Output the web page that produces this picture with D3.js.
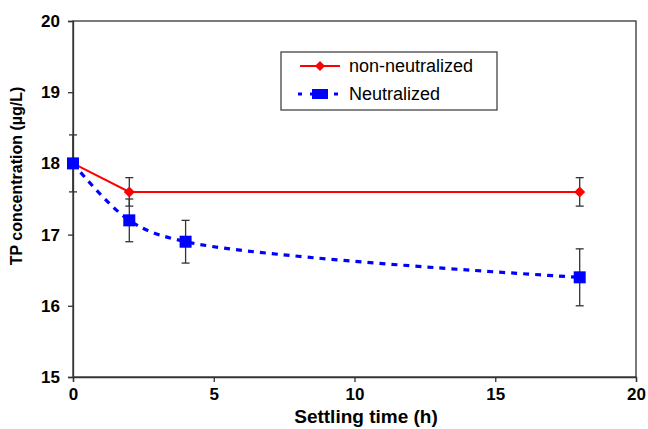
<!DOCTYPE html>
<html>
<head>
<meta charset="utf-8">
<script src="https://cdn.jsdelivr.net/npm/d3@7"></script>
<style>
  body { margin: 0; background: #fff; }
  text { font-family: "Liberation Sans", Arial, sans-serif; }
</style>
</head>
<body>
<svg id="chart" width="648" height="429"></svg>
<script>
// settling time (h)
const nonNeutTime = [0, 2, 18];
const nonNeutValue = [18.0, 17.6, 17.6];
const nonNeutErr = [0.4, 0.2, 0.2];

const neutTime = [0, 2, 4, 18];
const neutValue = [18.0, 17.2, 16.9, 16.4];
const neutErr = [0, 0.3, 0.3, 0.4];

const xTicks = [0, 5, 10, 15, 20];
const yTicks = [15, 16, 17, 18, 19, 20];

const svg = d3.select("#chart");
const margin = { left: 73, top: 21, right: 12, bottom: 52 };
const width = 648 - margin.left - margin.right;
const height = 429 - margin.top - margin.bottom;

const x = d3.scaleLinear().domain([0, 20]).range([0, width]);
const y = d3.scaleLinear().domain([15, 20]).range([height, 0]);

const g = svg.append("g").attr("transform", `translate(${margin.left},${margin.top})`);

// frame
g.append("rect")
  .attr("width", width).attr("height", height)
  .attr("fill", "none").attr("stroke", "#333").attr("stroke-width", 1.3);

const xAxis = g.append("g")
  .attr("transform", `translate(0,${height})`)
  .call(d3.axisBottom(x).tickValues(xTicks).tickFormat(d3.format("d")).tickSize(5).tickPadding(6));
const yAxis = g.append("g")
  .call(d3.axisLeft(y).tickValues(yTicks).tickFormat(d3.format("d")).tickSize(5).tickPadding(8));

[xAxis, yAxis].forEach(a => {
  a.select(".domain").attr("stroke", "#333").attr("stroke-width", 1.3);
  a.selectAll(".tick line").attr("stroke", "#333").attr("stroke-width", 1.3);
  a.selectAll(".tick text")
    .attr("fill", "#000")
    .style("font-size", "17px")
    .style("font-weight", "bold");
});

// axis titles
g.append("text")
  .attr("x", 366 - margin.left)
  .attr("y", height + 46)
  .attr("text-anchor", "middle")
  .style("font-size", "19px").style("font-weight", "bold")
  .text("Settling time (h)");

g.append("text")
  .attr("transform", `translate(-51,${176 - margin.top}) rotate(-90)`)
  .attr("text-anchor", "middle")
  .style("font-size", "16px").style("font-weight", "bold")
  .text("TP concentration (µg/L)");

const nonNeut = nonNeutTime.map((t, i) => ({ t, v: nonNeutValue[i], e: nonNeutErr[i] }));
const neut = neutTime.map((t, i) => ({ t, v: neutValue[i], e: neutErr[i] }));

// error bars
function errorBars(data) {
  const eb = g.append("g").attr("stroke", "#333").attr("stroke-width", 1.3);
  data.filter(d => d.e > 0).forEach(d => {
    const cx = x(d.t);
    eb.append("line").attr("x1", cx).attr("x2", cx).attr("y1", y(d.v + d.e)).attr("y2", y(d.v - d.e));
    [d.v + d.e, d.v - d.e].forEach(v => {
      eb.append("line").attr("x1", cx - 4).attr("x2", cx + 4).attr("y1", y(v)).attr("y2", y(v));
    });
  });
}
errorBars(nonNeut);
errorBars(neut);

// lines
g.append("path")
  .datum(nonNeut)
  .attr("fill", "none").attr("stroke", "#ff0000").attr("stroke-width", 2)
  .attr("d", d3.line().x(d => x(d.t)).y(d => y(d.v)));

g.append("path")
  .datum(neut)
  .attr("fill", "none").attr("stroke", "#0000ff").attr("stroke-width", 3.2)
  .attr("stroke-dasharray", "6,6")
  .attr("d", d3.line().curve(d3.curveCatmullRom.alpha(0.5)).x(d => x(d.t)).y(d => y(d.v)));

// markers (diamond = rotated square)
const diamond = "M0,-5.5L5.5,0L0,5.5L-5.5,0Z";
g.selectAll(".dia").data(nonNeut).join("path")
  .attr("transform", d => `translate(${x(d.t)},${y(d.v)})`)
  .attr("d", diamond).attr("fill", "#ff0000");

g.selectAll(".sq").data(neut).join("rect")
  .attr("x", d => x(d.t) - 6).attr("y", d => y(d.v) - 6)
  .attr("width", 12).attr("height", 12).attr("fill", "#0000ff");

// legend
const lg = svg.append("g").attr("transform", "translate(281,52)");
lg.append("rect").attr("width", 216).attr("height", 58)
  .attr("fill", "#fff").attr("stroke", "#444").attr("stroke-width", 1.3);
lg.append("line").attr("x1", 19).attr("x2", 59).attr("y1", 14).attr("y2", 14)
  .attr("stroke", "#ff0000").attr("stroke-width", 2);
lg.append("path").attr("transform", "translate(39,14)").attr("d", "M0,-5L5,0L0,5L-5,0Z").attr("fill", "#ff0000");
lg.append("text").attr("x", 68).attr("y", 20).style("font-size", "18px").text("non-neutralized");

lg.append("line").attr("x1", 17).attr("x2", 63).attr("y1", 42).attr("y2", 42)
  .attr("stroke", "#0000ff").attr("stroke-width", 3.2).attr("stroke-dasharray", "4,8");
lg.append("rect").attr("x", 31).attr("y", 37).attr("width", 16).attr("height", 10).attr("fill", "#0000ff");
lg.append("text").attr("x", 68).attr("y", 48).style("font-size", "18px").text("Neutralized");
</script>
</body>
</html>
